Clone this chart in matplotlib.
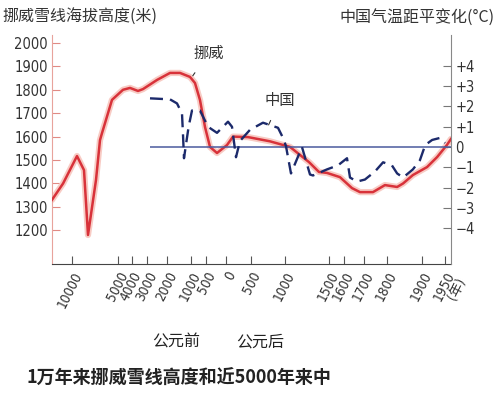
import numpy as np
import matplotlib.pyplot as plt

plt.rcParams['font.family'] = ['Noto Sans CJK SC', 'DejaVu Sans']

# x axis is not linear: tick years and where they sit on the axis (relative units)
tick_years = [-12200, -10000, -5000, -4000, -3000, -2000, -1000, -500, 0, 500,
              1000, 1500, 1600, 1700, 1800, 1900, 1950, 1963]
tick_pos = [52, 72, 118, 132, 147, 167, 191, 206, 226, 251,
            285, 329, 344, 364, 387, 422, 445, 451]
tick_labels = ['10000', '5000', '4000', '3000', '2000', '1000', '500', '0', '500',
               '1000', '1500', '1600', '1700', '1800', '1900', '1950\n(年)']

# Norway snowline height (m)
norway_year = [-12200, -10980, -9457, -8696, -8261, -7391, -6957, -6739, -5652,
               -4643, -4143, -3600, -3267, -2500, -1875, -1458, -1042, -867,
               -700, -533, -400, -225, 20, 140, 440, 778, 1057, 1273, 1386,
               1477, 1573, 1640, 1680, 1739, 1791, 1829, 1846, 1874, 1911,
               1933, 1954, 1963]
norway_height = [1330, 1400, 1517, 1457, 1180, 1415, 1585, 1615, 1757,
                 1800, 1808, 1795, 1803, 1842, 1872, 1872, 1855, 1829,
                 1756, 1641, 1556, 1530, 1564, 1600, 1598, 1580, 1556, 1491, 1449,
                 1445, 1427, 1380, 1363, 1363, 1393, 1385, 1400, 1436, 1470,
                 1513, 1564, 1590]

# China temperature anomaly (deg C)
china_year = [-2850, -1875, -1583, -1375, -1333, -1292, -1100, -967, -700, -450,
              -225, 40, 120, 200, 280, 480, 676, 897, 971, 1011, 1068, 1193,
              1284, 1318, 1477, 1560, 1615, 1630, 1665, 1704, 1748, 1783, 1814,
              1829, 1846, 1874, 1894, 1907, 1922, 1939, 1950]
china_temp = [2.4, 2.35, 2.15, 1.65, 0.6, -0.55, 1.0, 1.8, 1.8, 1.0,
              0.7, 1.25, 1.0, -0.5, 0.3, 0.85, 1.2, 0.95, 0.45, 0.05, -1.3, 0.0,
              -1.35, -1.4, -1.1, -0.9, -0.55, -1.5, -1.7, -1.6, -1.2, -0.75, -0.9,
              -1.3, -1.5, -1.1, -0.65, 0.1, 0.35, 0.45, 0.2]

left_ticks = [1200, 1300, 1400, 1500, 1600, 1700, 1800, 1900, 2000]
right_ticks = [-4, -3, -2, -1, 0, 1, 2, 3, 4]
right_labels = ['−4', '−3', '−2', '−1', '0', '+1', '+2', '+3', '+4']


def fwd(x):
    return np.interp(x, tick_years, tick_pos)


def inv(p):
    return np.interp(p, tick_pos, tick_years)


def narrow(labels):
    for t in labels:
        t.set_family(['DejaVu Sans', 'Noto Sans CJK SC'])
        t.set_fontstretch('condensed')


fig = plt.figure(figsize=(5, 3.93), dpi=100)
ax = fig.add_axes([52 / 500, 1 - 264 / 393, 399 / 500, 229 / 393])
ax.set_xscale('function', functions=(fwd, inv))
ax.set_xlim(-12200, 1963)
ax.set_ylim(1056, 2034)

ax.plot(norway_year, norway_height, color='#f8cbc4', lw=4.5, solid_capstyle='round', zorder=2)
ax.plot(norway_year, norway_height, color='#d8323a', lw=1.8, zorder=3)

ax.set_yticks(left_ticks)
ax.set_yticklabels([str(v) for v in left_ticks])
ax.set_xticks(tick_years[1:-1])
ax.set_xticklabels(tick_labels, rotation=63, ha='right', va='top',
                   rotation_mode='anchor', linespacing=0.9)
ax.tick_params(axis='both', direction='in', length=6, width=0.8, colors='#555555',
               labelsize=10.5, labelcolor='#333333')
ax.tick_params(axis='y', pad=3, colors='#e08a84', labelcolor='#333333')
ax.tick_params(axis='x', pad=4, labelsize=9.8)
narrow(ax.get_yticklabels())
narrow(ax.get_xticklabels())

for side in ['top', 'right']:
    ax.spines[side].set_visible(False)
ax.spines['left'].set_color('#e8a39c')
ax.spines['bottom'].set_color('#444444')

ax2 = ax.twinx()
ax2.set_ylim(-5.76, 5.52)
ax2.hlines(0, -2850, 1963, color='#4a5a9e', lw=1.1, zorder=2)
ax2.plot(china_year, china_temp, color='#1c2a6b', lw=1.7, dashes=(5.5, 3), zorder=3)
ax2.set_yticks(right_ticks)
ax2.set_yticklabels(right_labels)
ax2.tick_params(axis='y', direction='in', length=6, width=0.8, colors='#777777',
                labelsize=10.5, labelcolor='#333333', pad=3)
narrow(ax2.get_yticklabels())
for side in ['top', 'left', 'bottom']:
    ax2.spines[side].set_visible(False)
ax2.spines['right'].set_color('#888888')

ax.annotate('挪威', xy=(-967, 1855), xytext=(-440, 1955), ha='center', va='center',
            fontsize=11, color='#333333',
            arrowprops=dict(arrowstyle='-', color='#333333', lw=0.8, shrinkA=7, shrinkB=1))
ax2.annotate('中国', xy=(750, 1.03), xytext=(926, 2.3), ha='center', va='center',
             fontsize=11, color='#333333',
             arrowprops=dict(arrowstyle='-', color='#333333', lw=0.8, shrinkA=7, shrinkB=1))

fig.text(2 / 500, 1 - 17 / 393, '挪威雪线海拔高度(米)', fontsize=11.5, color='#333333',
         ha='left', va='center')
fig.text(495 / 500, 1 - 17 / 393, '中国气温距平变化(°C)', fontsize=11.5, color='#333333',
         ha='right', va='center')
fig.text(176 / 500, 1 - 342 / 393, '公元前', fontsize=11.5, color='#222222',
         ha='center', va='center')
fig.text(260 / 500, 1 - 342 / 393, '公元后', fontsize=11.5, color='#222222',
         ha='center', va='center')
fig.text(27 / 500, 1 - 378 / 393, '1万年来挪威雪线高度和近5000年来中', fontsize=13,
         fontweight='bold', color='#222222', ha='left', va='center')

fig.savefig('out.png', dpi=100, facecolor='white')
